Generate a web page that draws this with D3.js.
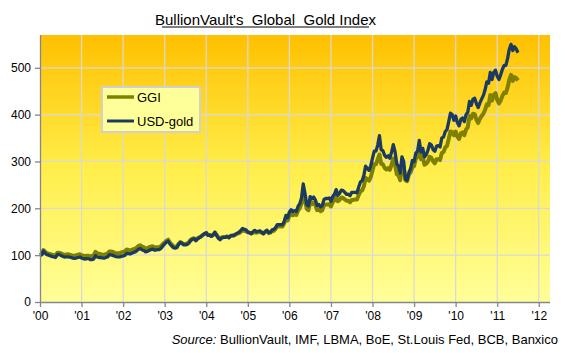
<!DOCTYPE html>
<html><head><meta charset="utf-8">
<script src="https://cdn.jsdelivr.net/npm/d3@7"></script>
<style>body{margin:0;background:#fff}svg{display:block}text{font-family:"Liberation Sans",Arial,sans-serif}</style>
</head><body>
<svg id="c" width="565" height="353"></svg>
<script>
// ---- data ----
const title = "BullionVault's  Global  Gold Index";
const seriesNames = ["GGI", "USD-gold"];
const startYear = 2000;
const periodsPerYear = 24; // semi-monthly readings
const yearTicks = [2000,2001,2002,2003,2004,2005,2006,2007,2008,2009,2010,2011,2012];
const yearLabels = ["'00","'01","'02","'03","'04","'05","'06","'07","'08","'09","'10","'11","'12"];
const yTicks = [0,100,200,300,400,500];
const ggi = [
 100,102,111,107,104,103,102,101,100,99,105,105,104,102,101,101,102,101,100,99,99,100,101,102,
 100,99,98,99,99,97.5,98,99.5,107,104,103,102,101,101,102,103,108,108,107,105,104,104,104,106,
 107,108,112,111,110,111,113,114,117,120,121,118,117,114,115,117,118,119,117,117,117,117,120,124,
 127,131,133,127,123,119,118,118,124,128,126,124,124,125,128,133,135,136,132,136,138,140,143,145,
 147,143,143,141,144,148,143,138,135,138,139,139,140,138,141,142,142,144,146,147,150,153,152,151,
 149,148,146,148,150,148,149,150,148,146,150,152,147,148,151,152,156,161,161,161,161,168,179,174,
 184,188,185,187,186,195,200,210,232,218,199,196,214,209,212,207,196,198,194,196,207,208,208,209,
 204,213,217,226,215,218,223,222,219,216,216,213,218,218,219,219,228,237,238,247,265,262,259,267,
 281,294,294,305,315,295,294,286,283,286,282,293,306,293,273,270,260,292,287,260,258,272,277,288,
 290,306,310,328,305,310,293,295,300,310,308,300,296,305,305,303,318,320,330,333,348,364,363,356,
 364,353,348,360,362,356,368,373,397,392,402,401,389,382,391,397,402,410,422,420,442,430,442,446,
 432,424,430,440,447,446,458,475,485,472,480,478,473
];
const usdGold = [
 100,101,109,104,101,100,98.5,97,96.5,95,101,101.5,99.5,97.5,96,96.5,96.5,96,95,93.5,93,94,95,96,
 94,92.5,91.5,92.5,92.5,90.5,90.5,92,99,96,95,94.5,94,93.5,95,96,101,100.5,99.5,98,97,96.5,96.5,97.5,
 98.5,99.5,104,103.5,102.5,104,106,107,110,113,114,111,110,107,108,110,112,113,111,111,112,112,115,120,
 124,128,130,124,120,116,115,116,123,127,125,122,122,123,126,131,134,135,131,135,137,140,143,146,
 148,142,143,140,143,149,142,136,133,137,138,138,140,137,141,142,142,145,147,149,153,157,155,154,
 149,148,146,150,153,150,151,152,149,146,150,153,148,149,154,155,159,165,165,165,165,172,185,180,
 192,197,193,195,193,204,210,222,252,232,208,205,225,220,224,218,206,208,203,206,219,221,221,222,
 215,225,230,240,228,232,239,238,234,230,230,227,234,234,234,233,245,256,259,270,290,285,281,291,
 307,322,322,335,355,325,323,313,309,312,307,320,336,321,295,290,275,310,300,262,260,276,285,302,
 300,318,322,345,320,328,310,314,324,338,335,325,322,333,334,331,350,352,364,368,385,403,400,388,
 397,383,376,390,393,385,400,405,428,420,433,435,423,415,425,433,441,453,470,467,490,475,490,495,
 482,475,485,497,505,505,520,540,550,537,545,540,532
];
const sourcePrefix = "Source:";
const sourceText = " BullionVault, IMF, LBMA, BoE, St.Louis Fed, BCB, Banxico";

// ---- chart ----
const svg = d3.select("#c");
const L = 40, R = 550, T = 35, B = 302;
const x = d3.scaleLinear().domain([2000, 2012.27]).range([L, R]);
const y = d3.scaleLinear().domain([0, 570]).range([B, T]);

const defs = svg.append("defs");
const g = defs.append("linearGradient").attr("id","bg").attr("x1",0).attr("y1",0).attr("x2",0).attr("y2",1);
g.append("stop").attr("offset","0%").attr("stop-color","#FFC000");
g.append("stop").attr("offset","50%").attr("stop-color","#FFEE4A");
g.append("stop").attr("offset","100%").attr("stop-color","#FFFF99");

svg.append("rect").attr("x",L).attr("y",T).attr("width",R-L).attr("height",B-T).attr("fill","url(#bg)");

// gridlines
svg.append("g").selectAll("line").data(yTicks.filter(d=>d>0)).join("line")
  .attr("x1",L).attr("x2",R).attr("y1",d=>y(d)).attr("y2",d=>y(d))
  .attr("stroke","#d9d9d9").attr("stroke-width",1.2);
svg.append("g").selectAll("line").data(yearTicks.filter(d=>d>2000)).join("line")
  .attr("x1",d=>x(d)).attr("x2",d=>x(d)).attr("y1",T).attr("y2",B)
  .attr("stroke","#d9d9d9").attr("stroke-width",1.2);

// title
svg.append("text").attr("x",265.5).attr("y",24.5).attr("text-anchor","middle")
  .style("white-space","pre").attr("font-size",15).attr("fill","#000").text(title);
const tw = 207;
svg.append("line").attr("x1",265.5-tw/2).attr("x2",265.5+tw/2).attr("y1",27).attr("y2",27)
  .attr("stroke","#000").attr("stroke-width",1);

// series
const toT = i => startYear + i/periodsPerYear;
const line = d3.line().x((d,i)=>x(toT(i))).y(d=>y(d));
svg.append("path").datum(ggi).attr("d",line).attr("fill","none")
  .attr("stroke","#808000").attr("stroke-width",4).attr("stroke-linejoin","round");
svg.append("path").datum(usdGold).attr("d",line).attr("fill","none")
  .attr("stroke","#1B3A62").attr("stroke-width",3.3).attr("stroke-linejoin","round");

// axes
const yAxis = d3.axisLeft(y).tickValues(yTicks).tickSize(5).tickPadding(4).tickFormat(d3.format("d"));
const ya = svg.append("g").attr("transform",`translate(${L},0)`).call(yAxis);
const xAxis = d3.axisBottom(x).tickValues(yearTicks).tickSize(5).tickPadding(4)
  .tickFormat((d,i)=>yearLabels[i]);
const xa = svg.append("g").attr("transform",`translate(0,${B})`).call(xAxis);
[ya,xa].forEach(a=>{
  a.select(".domain").attr("stroke","#868686").attr("stroke-width",1.3);
  a.selectAll(".tick line").attr("stroke","#868686").attr("stroke-width",1.3);
  a.selectAll(".tick text").attr("font-size",12).attr("fill","#000")
   .attr("font-family","'Liberation Sans',Arial,sans-serif");
});
xa.select(".domain").attr("d",`M${L},0.5H${R}`);
ya.select(".domain").attr("d",`M0.5,${B}V${T}`);

// legend
const lg = svg.append("g");
lg.append("rect").attr("x",102).attr("y",87).attr("width",98).attr("height",45)
  .attr("fill","#FFFF99").attr("stroke","#d0d0d0").attr("stroke-width",2);
const lc = ["#808000","#1B3A62"], lw=[3.5,3];
seriesNames.forEach((n,i)=>{
  const yy = 97 + i*24;
  lg.append("line").attr("x1",107).attr("x2",134).attr("y1",yy).attr("y2",yy)
    .attr("stroke",lc[i]).attr("stroke-width",lw[i]);
  lg.append("text").attr("x",137).attr("y",yy+4.5).attr("font-size",13).attr("fill","#000").text(n);
});

// source
const st = svg.append("text").attr("x",558).attr("y",344).attr("text-anchor","end")
  .attr("font-size",13).attr("fill","#000").style("white-space","pre");
st.append("tspan").attr("font-style","italic").text(sourcePrefix);
st.append("tspan").text(sourceText);
</script>
</body></html>
